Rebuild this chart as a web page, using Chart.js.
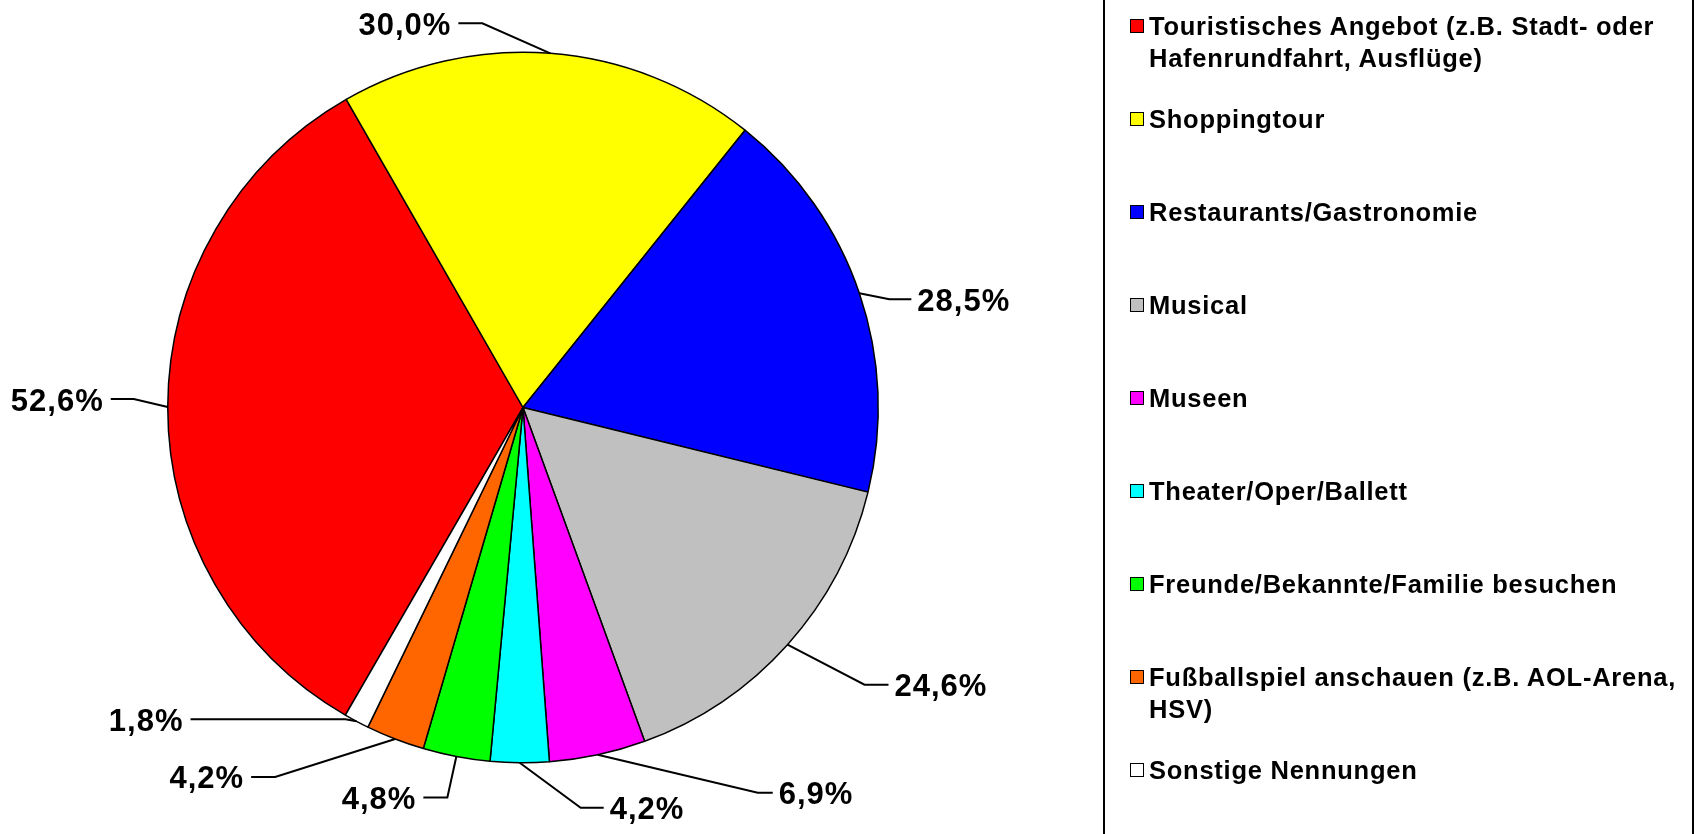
<!DOCTYPE html>
<html>
<head>
<meta charset="utf-8">
<script src="https://cdn.jsdelivr.net/npm/chart.js@4"></script>
<style>
  body { margin: 0; background: #fff; }
  #wrap { position: relative; width: 1699px; height: 834px; overflow: hidden; }
  #legend { position: absolute; left: 1103px; top: -5px; width: 587px; height: 844px;
            border-left: 2px solid #000; border-right: 2px solid #000; }
  .item { position: absolute; left: 25px; font: bold 25.5px "Liberation Sans", Arial, sans-serif;
          letter-spacing: 0.75px; line-height: 32px; color: #000; white-space: nowrap; }
  .box { position: absolute; left: 0; top: 9px; width: 12px; height: 12px; border: 1.5px solid #000; }
  .txt { position: absolute; left: 19px; top: 0; }
</style>
</head>
<body>
<div id="wrap">
  <canvas id="pie" width="1699" height="834"></canvas>
  <div id="legend"></div>
</div>
<script>
const categories = [
  ["Touristisches Angebot (z.B. Stadt- oder", "Hafenrundfahrt, Ausflüge)"],
  "Shoppingtour",
  "Restaurants/Gastronomie",
  "Musical",
  "Museen",
  "Theater/Oper/Ballett",
  "Freunde/Bekannte/Familie besuchen",
  ["Fußballspiel anschauen (z.B. AOL-Arena,", "HSV)"],
  "Sonstige Nennungen"
];
const values = [52.6, 30.0, 28.5, 24.6, 6.9, 4.2, 4.8, 4.2, 1.8];
const colors = ["#FF0000", "#FFFF00", "#0000FF", "#C0C0C0", "#FF00FF", "#00FFFF", "#00FF00", "#FF6600", "#FFFFFF"];

// leader line: elbow offset from slice edge, then horizontal run
const leaders = [[-34, -8, -23], [-68, -30, -24], [30, 6, 22], [77, 40, 24], [160, 38, 15],
                 [61, 45, 23], [-9, 41, -24], [-120, 38, -24], [-11, -2, -155]];

const labelPlugin = {
  id: "leaderLabels",
  afterDatasetsDraw(chart) {
    const ctx = chart.ctx;
    const meta = chart.getDatasetMeta(0);
    ctx.save();
    ctx.strokeStyle = "#000";
    ctx.lineWidth = 2;
    ctx.fillStyle = "#000";
    ctx.font = "bold 31px 'Liberation Sans', Arial, sans-serif";
    ctx.letterSpacing = "1px";
    ctx.textBaseline = "middle";
    meta.data.forEach((arc, i) => {
      const p = arc.getProps(["x", "y", "startAngle", "endAngle", "outerRadius"], true);
      const mid = (p.startAngle + p.endAngle) / 2;
      const ex = p.x + Math.cos(mid) * p.outerRadius;
      const ey = p.y + Math.sin(mid) * p.outerRadius;
      const [dx, dy, run] = leaders[i];
      const bx = ex + dx, by = ey + dy;
      ctx.beginPath();
      ctx.moveTo(ex, ey);
      ctx.lineTo(bx, by);
      ctx.lineTo(bx + run, by);
      ctx.stroke();
      const txt = values[i].toFixed(1).replace(".", ",") + "%";
      if (run < 0) {
        ctx.textAlign = "right";
        ctx.fillText(txt, bx + run - 7, by + 3);
      } else {
        ctx.textAlign = "left";
        ctx.fillText(txt, bx + run + 6, by + 3);
      }
    });
    ctx.restore();
  }
};

new Chart(document.getElementById("pie"), {
  type: "pie",
  data: {
    labels: categories,
    datasets: [{
      data: values,
      backgroundColor: colors,
      borderColor: "#000",
      borderWidth: 1.5
    }]
  },
  options: {
    responsive: false,
    animation: false,
    rotation: 210,
    layout: { padding: { left: 167, top: 51, right: 820, bottom: 70 } },
    plugins: { legend: { display: false }, tooltip: { enabled: false } }
  },
  plugins: [labelPlugin]
});

// legend built from the same arrays
const legend = document.getElementById("legend");
categories.forEach((c, i) => {
  const item = document.createElement("div");
  item.className = "item";
  item.style.top = (15 + i * 93) + "px";
  const box = document.createElement("div");
  box.className = "box";
  box.style.background = colors[i];
  const t = document.createElement("div");
  t.className = "txt";
  t.innerHTML = (Array.isArray(c) ? c : [c]).join("<br>");
  item.appendChild(box);
  item.appendChild(t);
  legend.appendChild(item);
});
</script>
</body>
</html>
